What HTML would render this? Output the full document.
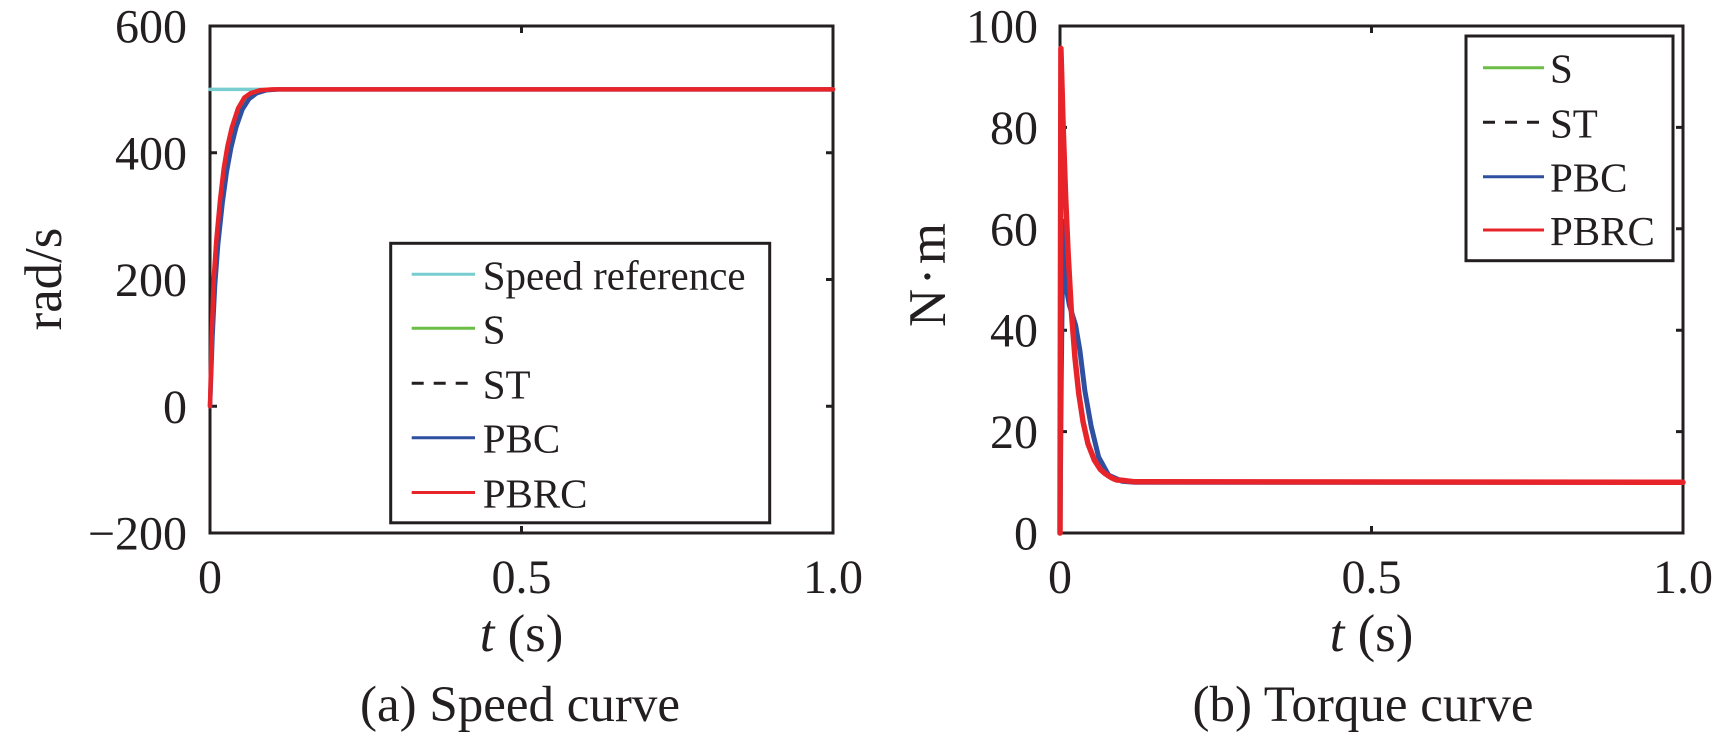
<!DOCTYPE html>
<html>
<head>
<meta charset="utf-8">
<style>
  html, body { margin:0; padding:0; background:#ffffff; }
  body { width:1732px; height:738px; overflow:hidden; }
  svg { display:block; }
  text { font-family: "Liberation Serif", "Times New Roman", serif; fill:#231f20; }
</style>
</head>
<body>
<svg width="1732" height="738" viewBox="0 0 1732 738" xmlns="http://www.w3.org/2000/svg">
  <rect x="0" y="0" width="1732" height="738" fill="#ffffff"/>

  <!-- ================= LEFT PLOT ================= -->
  <g stroke="#231f20" stroke-width="3" fill="none">
    <rect x="210" y="26" width="623" height="507"/>
    <path d="M210 152.75h7 M210 279.5h7 M210 406.25h7 M833 152.75h-7 M833 279.5h-7 M833 406.25h-7"/>
    <path d="M521.5 533v-7 M521.5 26v7"/>
  </g>
  <g font-size="48" text-anchor="end">
    <text x="187" y="42.5">600</text>
    <text x="187" y="169.25">400</text>
    <text x="187" y="296">200</text>
    <text x="187" y="422.75">0</text>
    <text x="187" y="549.5">&#8722;200</text>
  </g>
  <g font-size="48" text-anchor="middle">
    <text x="210" y="593">0</text>
    <text x="521.5" y="593">0.5</text>
    <text x="833" y="593">1.0</text>
  </g>
  <text x="521.5" y="651" font-size="52.8" text-anchor="middle"><tspan font-style="italic">t</tspan> (s)</text>
  <text x="61" y="279" font-size="52.8" text-anchor="middle" transform="rotate(-90 61 279)">rad/s</text>
  <text x="520" y="721" font-size="51" text-anchor="middle">(a) Speed curve</text>

  <g fill="none" stroke-linejoin="round" stroke-linecap="round">
    <line x1="210" y1="89.4" x2="833" y2="89.4" stroke="#78cdd0" stroke-width="3.5"/>
    <polyline stroke="#6cbd45" stroke-width="4" points="210,406.3 212,333 214,282 216.5,243 220.5,201 224.5,169 228,147 232.5,128 238.5,109 245,98 251,93 260,90.3 273,89.4 833,89.4"/>
    <polyline stroke="#2f4fa0" stroke-width="4.5" points="210,406.3 212.5,336.5 215,285.8 218.1,244.6 222.5,203.5 226.8,171.7 231.2,147.7 236.2,127.4 242.4,109.6 249.2,98.9 256.7,93.2 266.1,90.3 278.5,89.4 833,89.4"/>
    <polyline stroke="#e8242b" stroke-width="4.5" points="210,406.3 211.9,330.2 213.7,279.5 216.2,241.5 220,200.3 223.7,168.6 227.4,146.4 231.8,127.4 238,108.4 244.3,97.6 250.5,93.2 259.8,90.3 272.3,89.4 833,89.4"/>
  </g>

  <rect x="390.7" y="243.3" width="379" height="279.5" fill="#ffffff" stroke="#231f20" stroke-width="3"/>
  <g stroke-width="3">
    <line x1="411.7" y1="274.3" x2="475" y2="274.3" stroke="#78cdd0"/>
    <line x1="411.7" y1="328.3" x2="475" y2="328.3" stroke="#6cbd45"/>
    <line x1="411.7" y1="383.3" x2="475" y2="383.3" stroke="#231f20" stroke-dasharray="12,10"/>
    <line x1="411.7" y1="437.7" x2="475" y2="437.7" stroke="#2f4fa0"/>
    <line x1="411.7" y1="492.5" x2="475" y2="492.5" stroke="#e8242b"/>
  </g>
  <g font-size="41">
    <text x="482.7" y="289.3">Speed reference</text>
    <text x="482.7" y="343.3">S</text>
    <text x="482.7" y="398.3">ST</text>
    <text x="482.7" y="452.7">PBC</text>
    <text x="482.7" y="507.5">PBRC</text>
  </g>

  <!-- ================= RIGHT PLOT ================= -->
  <g stroke="#231f20" stroke-width="3" fill="none">
    <rect x="1060" y="26" width="623" height="507"/>
    <path d="M1060 127.4h7 M1060 228.8h7 M1060 330.2h7 M1060 431.6h7 M1683 127.4h-7 M1683 228.8h-7 M1683 330.2h-7 M1683 431.6h-7"/>
    <path d="M1371.5 533v-7 M1371.5 26v7"/>
  </g>
  <g font-size="48" text-anchor="end">
    <text x="1038" y="42.5">100</text>
    <text x="1038" y="143.9">80</text>
    <text x="1038" y="245.3">60</text>
    <text x="1038" y="346.7">40</text>
    <text x="1038" y="448.1">20</text>
    <text x="1038" y="549.5">0</text>
  </g>
  <g font-size="48" text-anchor="middle">
    <text x="1060" y="593">0</text>
    <text x="1371.5" y="593">0.5</text>
    <text x="1683" y="593">1.0</text>
  </g>
  <text x="1371.5" y="651" font-size="52.8" text-anchor="middle"><tspan font-style="italic">t</tspan> (s)</text>
  <text x="945" y="275" font-size="52.8" text-anchor="middle" transform="rotate(-90 945 275)" textLength="104" lengthAdjust="spacing">N·m</text>
  <text x="1363" y="721" font-size="51" text-anchor="middle">(b) Torque curve</text>

  <g fill="none" stroke-linejoin="round" stroke-linecap="round">
    <polyline stroke="#6cbd45" stroke-width="4" points="1060,533 1061,60 1063.5,130 1066,200 1068.5,256 1071.5,311 1075.3,360 1079,394 1083.5,423 1088.5,445 1094.5,461 1101,470 1110,477 1123,480.5 1135,482 1683,482.3"/>
    <polyline stroke="#2f4fa0" stroke-width="5" points="1060,533 1061.2,380.9 1063.1,221.2 1065.6,284.6 1069.3,304.9 1075.6,325.1 1079.9,350.5 1084.9,391 1091.2,426.5 1098.6,457 1108.6,475.2 1122.3,481.3 1134.8,482.3 1683,482.3"/>
    <polyline stroke="#e8242b" stroke-width="5.5" points="1060,533 1060.9,48.3 1063.1,124.9 1065.6,196.4 1068.1,253.1 1071.2,308.9 1075,358.1 1078.7,393.1 1083.1,422 1088,443.8 1094.3,460 1100.5,469.6 1105,473.5 1109.8,476.7 1113,478.5 1117,480 1122.3,480.3 1134.8,481.8 1683,482.3"/>
  </g>

  <rect x="1466" y="36" width="207" height="224.7" fill="#ffffff" stroke="#231f20" stroke-width="3"/>
  <g stroke-width="3">
    <line x1="1483" y1="67.7" x2="1544" y2="67.7" stroke="#6cbd45"/>
    <line x1="1483" y1="122.3" x2="1544" y2="122.3" stroke="#231f20" stroke-dasharray="12,10"/>
    <line x1="1483" y1="176.7" x2="1544" y2="176.7" stroke="#2f4fa0"/>
    <line x1="1483" y1="230" x2="1544" y2="230" stroke="#e8242b"/>
  </g>
  <g font-size="41">
    <text x="1550" y="82.7">S</text>
    <text x="1550" y="137.3">ST</text>
    <text x="1550" y="191.7">PBC</text>
    <text x="1550" y="245">PBRC</text>
  </g>
</svg>
</body>
</html>
